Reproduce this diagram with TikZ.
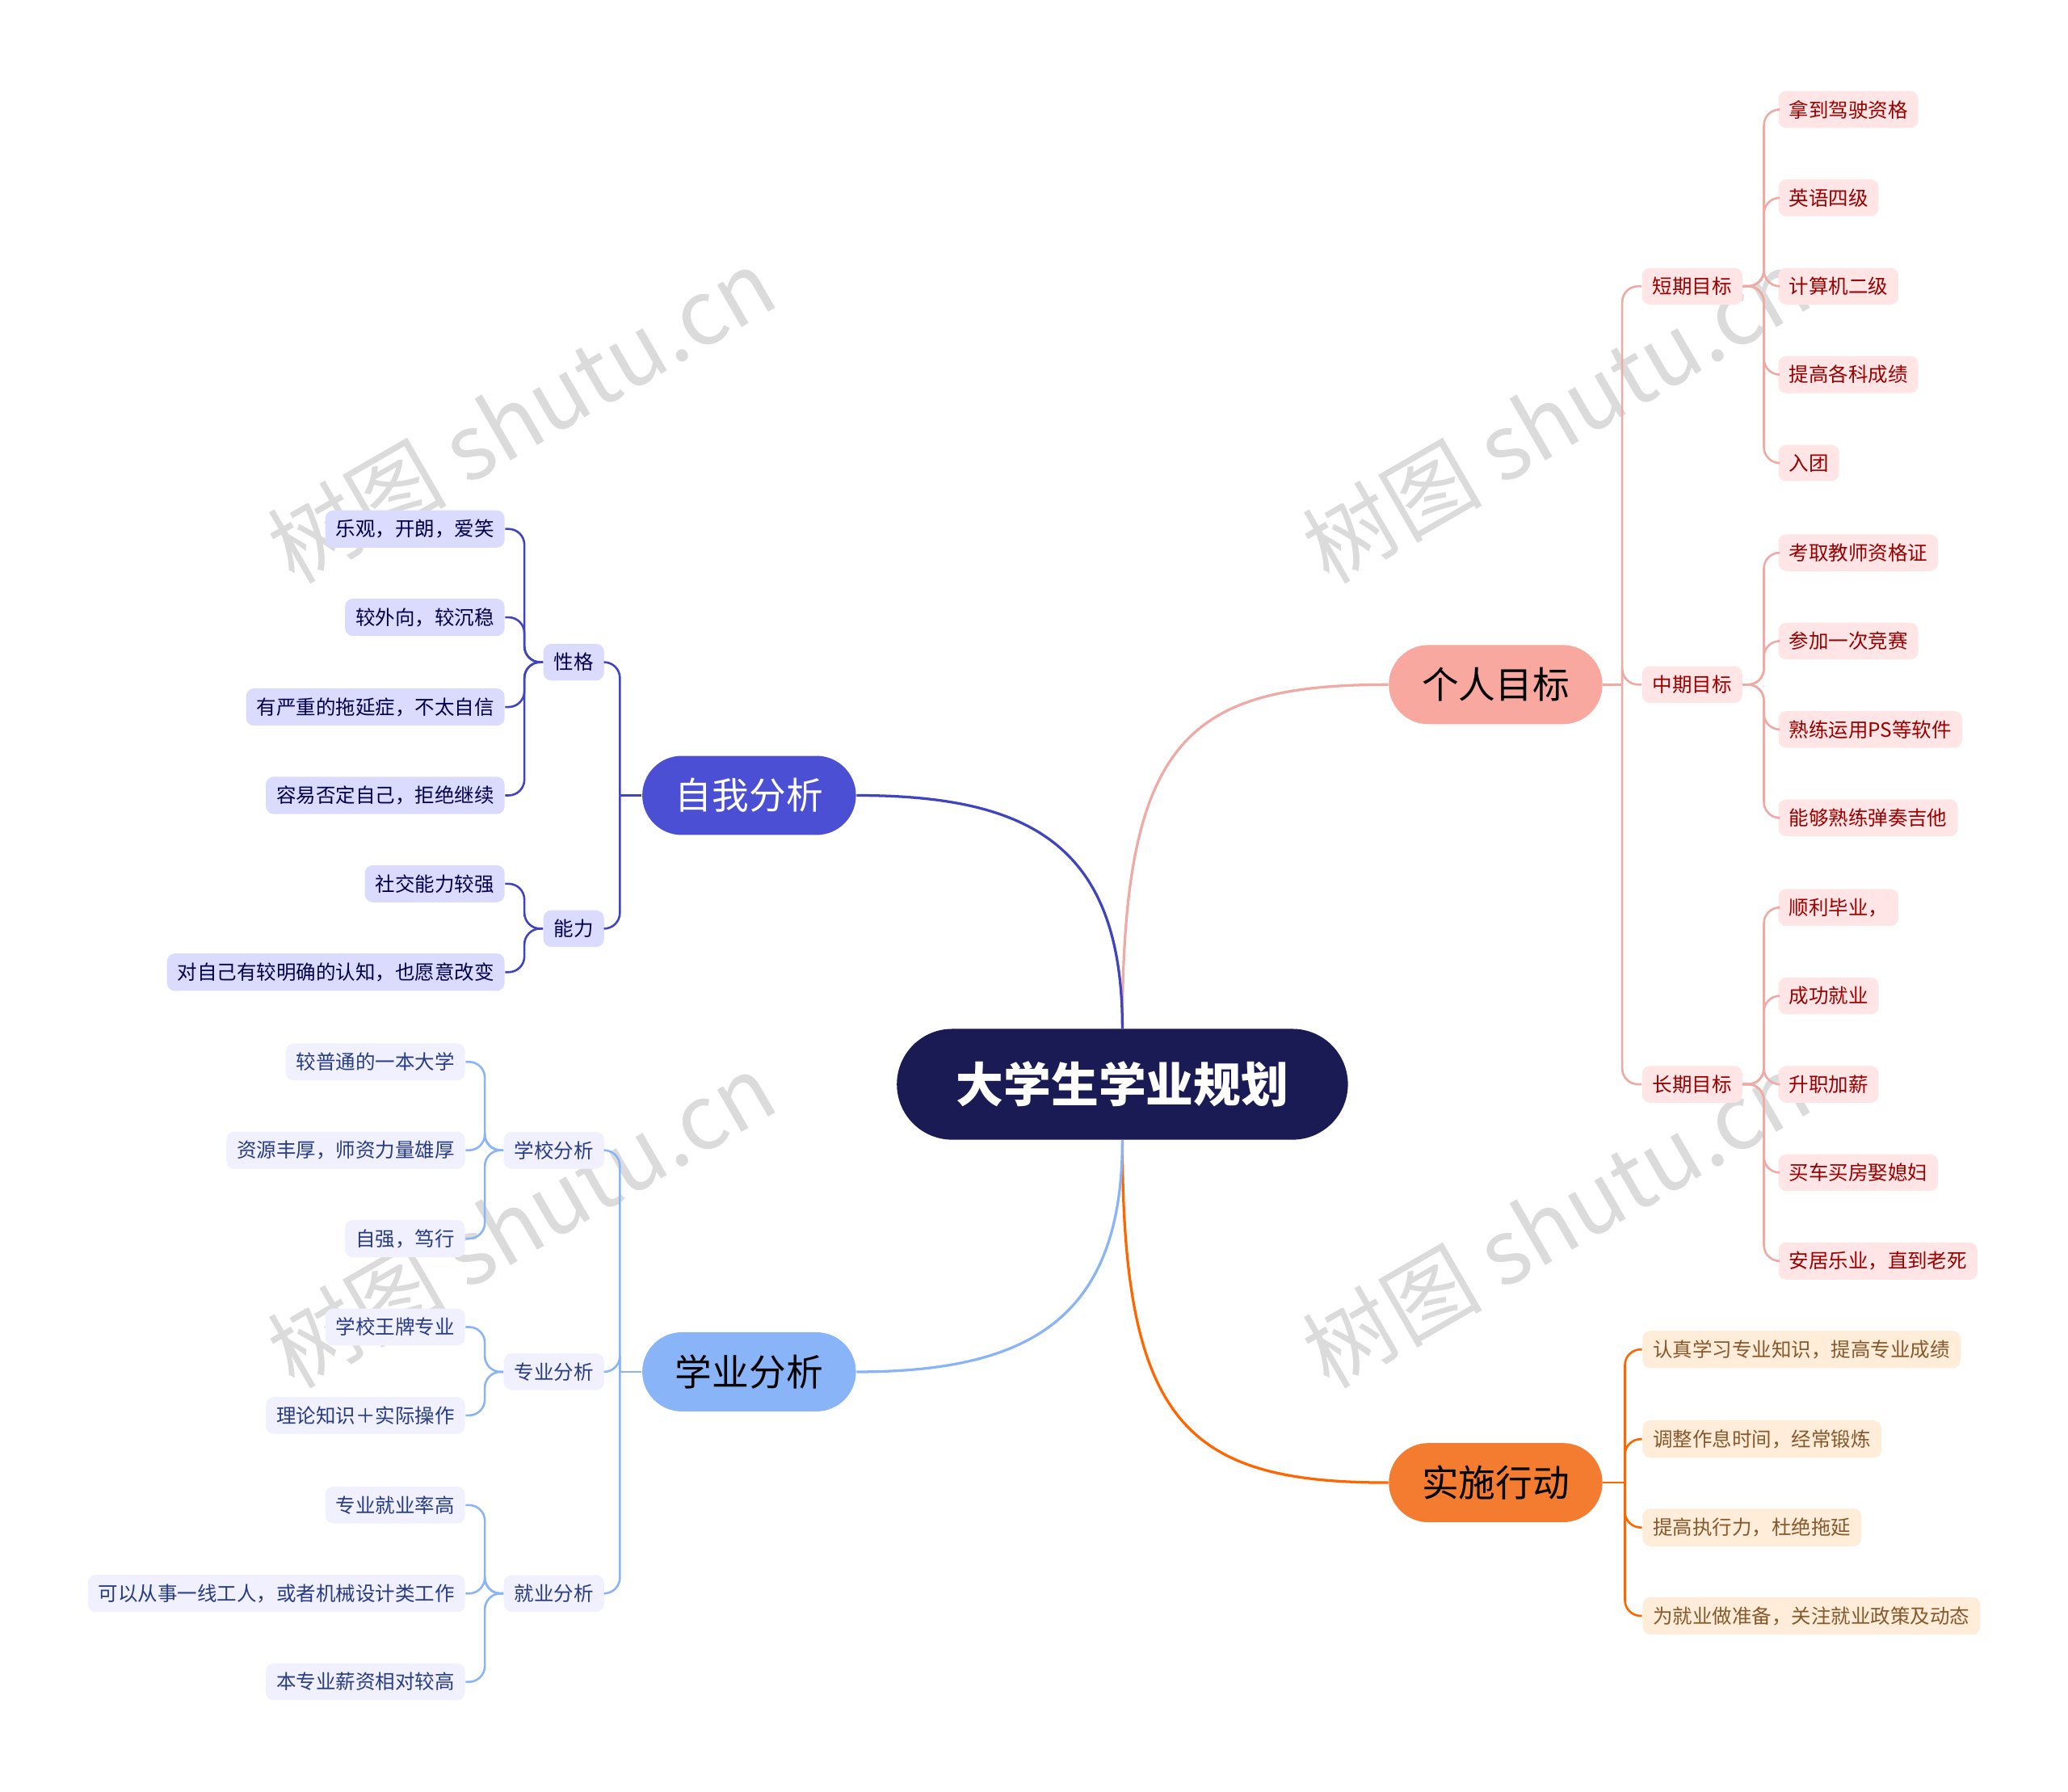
\documentclass[tikz,border=0pt]{standalone}
\usepackage{fontspec}
\newfontfamily\cjk{Noto Sans CJK SC}
\setmainfont{Noto Sans CJK SC}
\definecolor{blueline}{RGB}{64,68,190}
\definecolor{lightline}{RGB}{138,180,248}
\definecolor{pinkline}{RGB}{240,170,165}
\begin{document}
\begin{tikzpicture}[x=0.5pt,y=-0.5pt,
  leafbox/.style={rounded corners=3pt,inner xsep=4pt,inner ysep=3.5pt,font=\fontsize{7.5}{9}\selectfont},
  mainbox/.style={rounded corners=15pt,minimum width=81pt,minimum height=30pt,font=\fontsize{14}{16}\selectfont},
  pk/.style={leafbox,fill=red!10!white,text=red!60!black},
  pl/.style={draw=pinkline,line width=0.8pt,rounded corners=6pt},
  ok/.style={leafbox,fill=orange!15!white,text=brown!70!black},
  ol/.style={draw=orange!80!red,line width=0.8pt,rounded corners=6pt},
  bk/.style={leafbox,fill=blue!14!white,text=blue!30!black},
  bl/.style={draw=blueline,line width=0.8pt,rounded corners=6pt},
  lk/.style={leafbox,fill=blue!6!white,text={rgb,255:red,40;green,60;blue,130}},
  ll/.style={draw=lightline,line width=0.8pt,rounded corners=6pt},
  wm/.style={text=black!14,rotate=30,font=\fontsize{34}{36}\selectfont}]
\useasboundingbox (0,0) rectangle (1568,1358);
% watermarks
\foreach \i/\x/\y in {a/395/315,b/1180/315,c/395/925,d/1180/925}
  \node[wm] (wm\i) at (\x,\y) {树图 \rmfamily shutu.cn};
% center
\node[rounded corners=21pt,fill={rgb,255:red,26;green,26;blue,85},text=white,minimum width=171pt,minimum height=42pt,font=\fontsize{18}{20}\selectfont\bfseries] (c) at (851,822) {大学生学业规划};
\node[mainbox,fill={rgb,255:red,249;green,168;blue,160}] (p) at (1134,519) {个人目标};
\node[mainbox,fill={rgb,255:red,244;green,124;blue,48}] (o) at (1134,1124) {实施行动};
\node[mainbox,fill={rgb,255:red,74;green,79;blue,212},text=white] (s) at (568,603) {自我分析};
\node[mainbox,fill={rgb,255:red,138;green,180;blue,248}] (x) at (568,1040) {学业分析};
\draw[pinkline,line width=1pt] (c.north) .. controls (851,560) and (900,519) .. (p.west);
\draw[orange!80!red,line width=1pt] (c.south) .. controls (851,1080) and (900,1124) .. (o.west);
\draw[blueline,line width=1pt] (c.north) .. controls (851,640) and (780,603) .. (s.east);
\draw[lightline,line width=1pt] (c.south) .. controls (851,1000) and (780,1040) .. (x.east);
% personal goals
\node[pk] (p1) at (1283,217) {短期目标};
\node[pk] (p2) at (1283,519) {中期目标};
\node[pk] (p3) at (1283,822) {长期目标};
\draw[pl] (p.east) -- (1230,519);
\foreach \n in {p1,p2,p3} \draw[pl] (1230,519) |- (\n.west);
\foreach \pn/\y/\t [count=\k] in {p1/83/拿到驾驶资格,p1/150/英语四级,p1/217/计算机二级,p1/284/提高各科成绩,p1/351/入团,
  p2/419/考取教师资格证,p2/486/参加一次竞赛,p2/553/熟练运用PS等软件,p2/620/能够熟练弹奏吉他,
  p3/688/{顺利毕业，},p3/755/成功就业,p3/822/升职加薪,p3/889/买车买房娶媳妇,p3/956/{安居乐业，直到老死}}{
  \node[pk,anchor=west] (pp\k) at (1348,\y) {\t};
  \draw[pl] (\pn.east) -- ++(16,0) |- (pp\k.west);
}
% actions
\draw[ol] (o.east) -- (1232,1124);
\foreach \y/\t [count=\k] in {1023/{认真学习专业知识，提高专业成绩},1091/{调整作息时间，经常锻炼},1158/{提高执行力，杜绝拖延},1225/{为就业做准备，关注就业政策及动态}}{
  \node[ok,anchor=west] (o\k) at (1245,\y) {\t};
  \draw[ol] (1232,1124) |- (o\k.west);
}
% self analysis
\node[bk] (s1) at (435,502) {性格};
\node[bk] (s2) at (435,704) {能力};
\draw[bl] (s.west) -- (470,603);
\foreach \n in {s1,s2} \draw[bl] (470,603) |- (\n.east);
\foreach \pn/\y/\t [count=\k] in {s1/401/{乐观，开朗，爱笑},s1/468/{较外向，较沉稳},s1/536/{有严重的拖延症，不太自信},s1/603/{容易否定自己，拒绝继续},s2/670/社交能力较强,s2/737/{对自己有较明确的认知，也愿意改变}}{
  \node[bk,anchor=east] (ss\k) at (383,\y) {\t};
  \draw[bl] (\pn.west) -- ++(-14,0) |- (ss\k.east);
}
% academic analysis
\node[lk] (x1) at (420,872) {学校分析};
\node[lk] (x2) at (420,1040) {专业分析};
\node[lk] (x3) at (420,1208) {就业分析};
\draw[ll] (x.west) -- (470,1040);
\foreach \n in {x1,x2,x3} \draw[ll] (470,1040) |- (\n.east);
\foreach \pn/\y/\t [count=\k] in {x1/805/较普通的一本大学,x1/872/{资源丰厚，师资力量雄厚},x1/939/{自强，笃行},x2/1006/学校王牌专业,x2/1073/理论知识＋实际操作,x3/1141/专业就业率高,x3/1208/{可以从事一线工人，或者机械设计类工作},x3/1275/本专业薪资相对较高}{
  \node[lk,anchor=east] (xx\k) at (353,\y) {\t};
  \draw[ll] (\pn.west) -- ++(-14,0) |- (xx\k.east);
}
\end{tikzpicture}
\end{document}
